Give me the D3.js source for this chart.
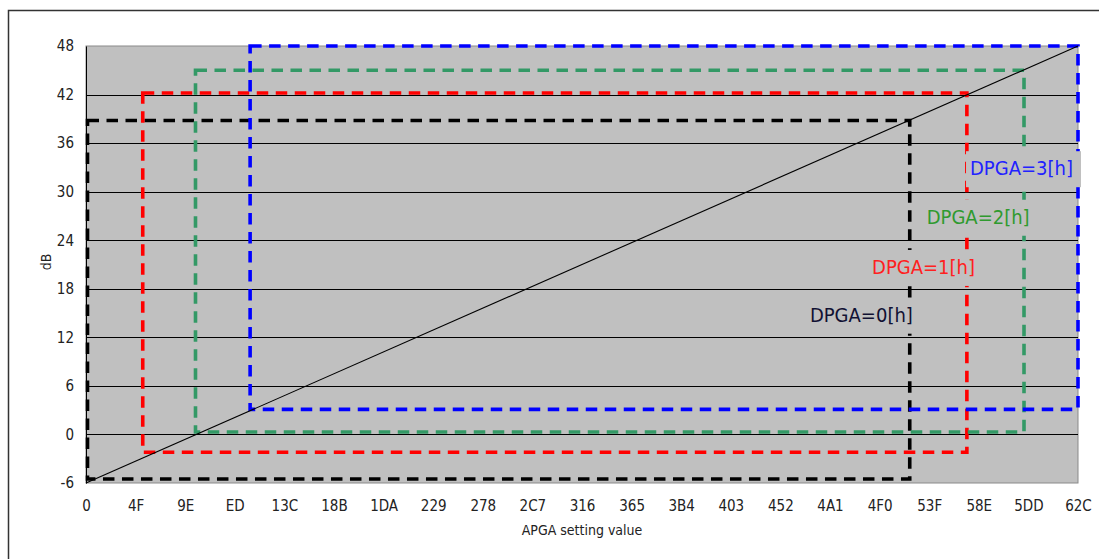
<!DOCTYPE html>
<html>
<head>
<meta charset="utf-8">
<script src="https://cdn.jsdelivr.net/npm/d3@7"></script>
<style>
  body { margin: 0; background: #fff; }
  svg text { font-family: "DejaVu Sans Condensed", "DejaVu Sans", sans-serif; }
</style>
</head>
<body>
<div id="chart"></div>
<script>
const width = 1099,
    height = 559,
    margin = {top: 46, right: 20, bottom: 75, left: 86};

// x tick labels (hex APGA setting values)
const xTickLabels = ["0", "4F", "9E", "ED", "13C", "18B", "1DA", "229", "278", "2C7",
    "316", "365", "3B4", "403", "452", "4A1", "4F0", "53F", "58E", "5DD", "62C"];
const yTicks = [-6, 0, 6, 12, 18, 24, 30, 36, 42, 48];

// gain line
const apga = [0, 1580];
const gainDb = [-6, 48];

// DPGA boxes
const dpgaNames = ["DPGA=0[h]", "DPGA=1[h]", "DPGA=2[h]", "DPGA=3[h]"];
const dpgaColors = ["#000000", "#ff0000", "#339966", "#0000ff"];
const textColors = ["#111133", "#ff2020", "#2f9a2f", "#2222ff"];
const boxX0 = [0, 88, 172, 259];
const boxX1 = [1312, 1403, 1494, 1580];
const boxY0 = [-5.5, -2.2, 0.3, 3.1];
const boxY1 = [38.8, 42.2, 45.0, 48.0];
// label anchors (data units: left edge, vertical middle)
const labelX = [1153, 1252, 1339, 1408];
const labelY = [14.8, 20.7, 26.9, 32.9];

const plotW = 1078 - margin.left,
    plotH = 483 - margin.top;

let svg = d3.select("#chart").append("svg")
    .attr("width", width)
    .attr("height", height);

// outer frame
svg.append("rect")
    .attr("x", 8.5).attr("y", 10.5)
    .attr("width", 1120).attr("height", 600)
    .attr("fill", "none")
    .attr("stroke", "#333")
    .attr("stroke-width", 1.5);

let g = svg.append("g")
    .attr("transform", `translate(${margin.left},${margin.top})`);

let x = d3.scaleLinear()
    .domain([0, parseInt(xTickLabels[xTickLabels.length - 1], 16)])
    .range([0, plotW]);

let y = d3.scaleLinear()
    .domain([-6, 48])
    .range([plotH, 0]);

// plot background
g.append("rect")
    .attr("width", plotW)
    .attr("height", plotH)
    .attr("fill", "#c0c0c0")
    .attr("stroke", "#8a8a8a")
    .attr("stroke-width", 1);

// gridlines
g.selectAll("line.grid")
    .data(yTicks.filter(d => d > -6 && d < 48))
    .join("line")
    .attr("class", "grid")
    .attr("x1", 0).attr("x2", plotW)
    .attr("y1", d => Math.round(y(d)) + 0.5)
    .attr("y2", d => Math.round(y(d)) + 0.5)
    .attr("stroke", "#000")
    .attr("stroke-width", 1);

// y axis
let yAxis = g.append("g")
    .call(d3.axisLeft(y).tickValues(yTicks).tickFormat(d => String(d)).tickSize(0).tickPadding(12));
yAxis.select(".domain").attr("stroke", "#000");
yAxis.selectAll("text")
    .attr("font-size", 15)
    .attr("fill", "#222");

// x axis labels
let xAxis = g.append("g")
    .attr("transform", `translate(0,${plotH})`)
    .call(d3.axisBottom(x)
        .tickValues(xTickLabels.map(d => parseInt(d, 16)))
        .tickFormat((d, i) => xTickLabels[i])
        .tickSize(0)
        .tickPadding(17));
xAxis.select(".domain").remove();
xAxis.selectAll("text")
    .attr("font-size", 15)
    .attr("fill", "#222");

// axis titles
g.append("text")
    .attr("x", plotW / 2)
    .attr("y", plotH + 52)
    .attr("text-anchor", "middle")
    .attr("font-size", 14)
    .attr("fill", "#222")
    .text("APGA setting value");

g.append("text")
    .attr("transform", `translate(${46 - margin.left},${262 - margin.top}) rotate(-90)`)
    .attr("text-anchor", "middle")
    .attr("dy", "0.35em")
    .attr("font-size", 14)
    .attr("fill", "#222")
    .text("dB");

// dashed DPGA boxes
let boxes = dpgaNames.map((name, i) => ({
    name: name, color: dpgaColors[i], textColor: textColors[i],
    x0: boxX0[i], x1: boxX1[i], y0: boxY0[i], y1: boxY1[i],
    lx: labelX[i], ly: labelY[i]
}));

// gain line
let line = d3.line()
    .x((d, i) => x(d))
    .y((d, i) => y(gainDb[i]));

g.selectAll("rect.dpga")
    .data(boxes)
    .join("rect")
    .attr("class", "dpga")
    .attr("x", d => x(d.x0) + 1.5)
    .attr("y", d => y(d.y1))
    .attr("width", d => x(d.x1) - x(d.x0) - 1.5)
    .attr("height", d => y(d.y0) - y(d.y1))
    .attr("fill", "none")
    .attr("stroke", d => d.color)
    .attr("stroke-width", 3.6)
    .attr("stroke-dasharray", "11.5,7.5");

g.append("path")
    .datum(apga)
    .attr("d", line)
    .attr("fill", "none")
    .attr("stroke", "#000")
    .attr("stroke-width", 1.1);

// labels with grey boxes that hide the lines behind them
let labels = g.selectAll("g.lbl")
    .data(boxes)
    .join("g")
    .attr("class", "lbl")
    .attr("transform", d => `translate(${x(d.lx)},${y(d.ly)})`);

labels.append("rect")
    .attr("x", -4)
    .attr("y", -17)
    .attr("width", 115)
    .attr("height", 36)
    .attr("fill", "#c0c0c0");

labels.append("text")
    .attr("dy", "0.36em")
    .attr("font-size", 20)
    .attr("fill", d => d.textColor)
    .text(d => d.name);
</script>
</body>
</html>
